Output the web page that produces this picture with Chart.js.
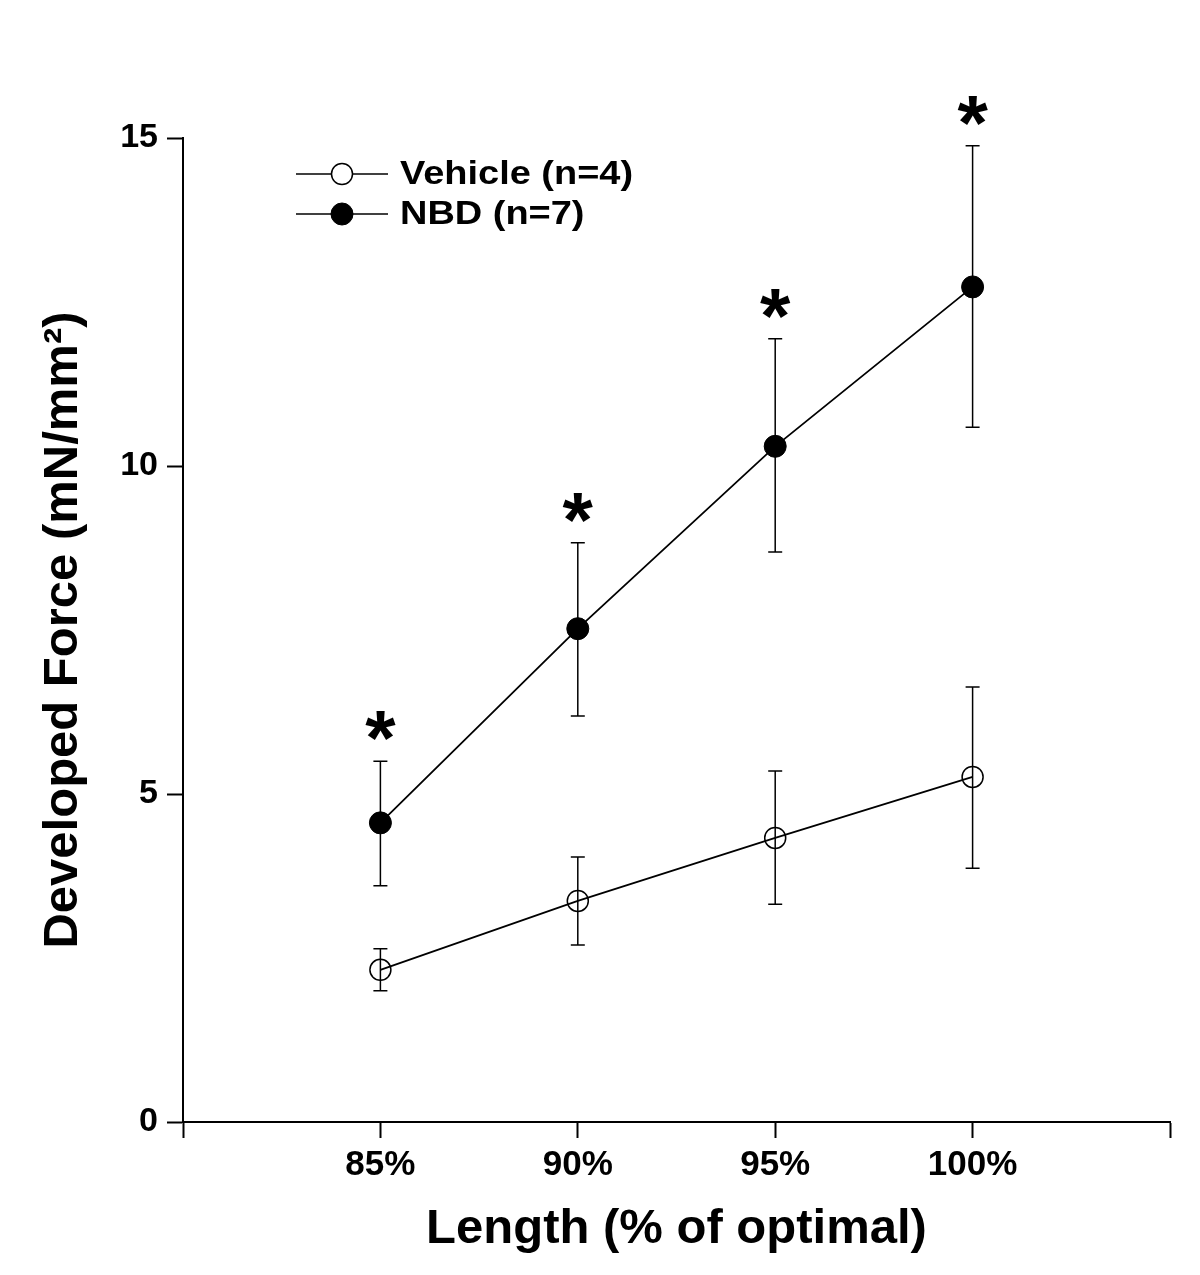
<!DOCTYPE html>
<html>
<head>
<meta charset="utf-8">
<script src="https://cdn.jsdelivr.net/npm/chart.js@4.4.1/dist/chart.umd.min.js"></script>
<style>
  html, body { margin: 0; padding: 0; background: #fff; }
  #wrap { width: 1200px; height: 1275px; }
</style>
</head>
<body>
<div id="wrap"><canvas id="chart"></canvas></div>
<script>
const lengths = [85, 90, 95, 100];
const vehicleMean = [2.32, 3.37, 4.33, 5.26];
const vehicleUpper = [2.64, 4.04, 5.35, 6.63];
const vehicleLower = [2.00, 2.70, 3.32, 3.87];
const nbdMean = [4.56, 7.52, 10.30, 12.73];
const nbdUpper = [5.50, 8.83, 11.94, 14.88];
const nbdLower = [3.60, 6.19, 8.69, 10.59];
const significant = [true, true, true, true];
const xTicks = [85, 90, 95, 100];

const FONT = 'Liberation Sans, Arial, sans-serif';

const toPoints = (xs, ys) => xs.map((x, i) => ({ x: x, y: ys[i] }));

// error bars with caps, drawn over the lines
const errorBars = {
  id: 'errorBars',
  afterDatasetsDraw(chart) {
    const ctx = chart.ctx;
    const xs = chart.scales.x;
    const ys = chart.scales.y;
    const sets = [[vehicleUpper, vehicleLower], [nbdUpper, nbdLower]];
    ctx.save();
    ctx.strokeStyle = '#000';
    ctx.lineWidth = 1.5;
    sets.forEach(([up, lo]) => {
      lengths.forEach((l, i) => {
        const px = xs.getPixelForValue(l);
        const top = ys.getPixelForValue(up[i]);
        const bot = ys.getPixelForValue(lo[i]);
        ctx.beginPath();
        ctx.moveTo(px, top); ctx.lineTo(px, bot);
        ctx.moveTo(px - 7, top); ctx.lineTo(px + 7, top);
        ctx.moveTo(px - 7, bot); ctx.lineTo(px + 7, bot);
        ctx.stroke();
      });
    });
    // asterisks above NBD error bars
    ctx.fillStyle = '#000';
    ctx.font = 'bold 78px ' + FONT;
    ctx.textAlign = 'center';
    ctx.textBaseline = 'alphabetic';
    lengths.forEach((l, i) => {
      if (!significant[i]) return;
      const px = xs.getPixelForValue(l);
      const top = ys.getPixelForValue(nbdUpper[i]);
      ctx.fillText('*', px, top - 37 + 41);
    });
    ctx.restore();
  }
};

// legend: line through marker, then label
const lineLegend = {
  id: 'lineLegend',
  afterDraw(chart) {
    const ctx = chart.ctx;
    ctx.save();
    chart.data.datasets.forEach((ds, i) => {
      const y = 174 + i * 40;
      ctx.strokeStyle = '#000';
      ctx.lineWidth = 1.5;
      ctx.beginPath();
      ctx.moveTo(296, y); ctx.lineTo(388, y);
      ctx.stroke();
      ctx.beginPath();
      ctx.arc(342, y, ds.pointRadius, 0, Math.PI * 2);
      ctx.fillStyle = ds.pointBackgroundColor === 'transparent' ? '#fff' : '#000';
      ctx.fill();
      ctx.lineWidth = ds.pointBorderWidth;
      ctx.stroke();
      ctx.save();
      ctx.translate(400, y + 1);
      ctx.scale(1.15, 1);
      ctx.font = 'bold 33px ' + FONT;
      ctx.textBaseline = 'middle';
      ctx.textAlign = 'left';
      ctx.fillStyle = '#000';
      ctx.fillText(ds.label, 0, 0);
      ctx.restore();
    });
    ctx.restore();
  }
};

new Chart(document.getElementById('chart'), {
  type: 'line',
  data: {
    datasets: [
      {
        label: 'Vehicle (n=4)',
        data: toPoints(lengths, vehicleMean),
        borderColor: '#000',
        borderWidth: 1.8,
        pointRadius: 10.5,
        pointBorderWidth: 1.5,
        pointBorderColor: '#000',
        pointBackgroundColor: 'transparent',
        tension: 0
      },
      {
        label: 'NBD (n=7)',
        data: toPoints(lengths, nbdMean),
        borderColor: '#000',
        borderWidth: 1.8,
        pointRadius: 11,
        pointBorderWidth: 1,
        pointBorderColor: '#000',
        pointBackgroundColor: '#000',
        tension: 0
      }
    ]
  },
  options: {
    responsive: true,
    maintainAspectRatio: false,
    animation: false,
    layout: { padding: { top: 138, right: 30, left: 0, bottom: 0 } },
    plugins: {
      legend: { display: false },
      tooltip: { enabled: false }
    },
    scales: {
      x: {
        type: 'linear',
        min: 80,
        max: 105,
        afterFit: (scale) => { scale.height = 153; },
        afterBuildTicks: (scale) => {
          scale.ticks = [80, ...xTicks, 105].map(v => ({ value: v }));
        },
        ticks: {
          color: '#000',
          font: { family: FONT, size: 35, weight: 'bold' },
          padding: 6,
          maxRotation: 0,
          autoSkip: false,
          callback: (v) => xTicks.includes(v) ? v + '%' : ''
        },
        grid: { drawOnChartArea: false, drawTicks: true, tickLength: 16, tickColor: '#000', tickWidth: 2 },
        border: { display: true, color: '#000', width: 2 },
        title: {
          display: true,
          text: 'Length (% of optimal)',
          color: '#000',
          font: { family: FONT, size: 49, weight: 'bold' },
          padding: { top: 0, bottom: 16 }
        }
      },
      y: {
        min: 0,
        max: 15,
        afterFit: (scale) => { scale.width = 183; },
        ticks: {
          stepSize: 5,
          color: '#000',
          font: { family: FONT, size: 34, weight: 'bold' },
          padding: 9
        },
        grid: { drawOnChartArea: false, drawTicks: true, tickLength: 16, tickColor: '#000', tickWidth: 2 },
        border: { display: true, color: '#000', width: 2 },
        title: {
          display: true,
          text: 'Developed Force (mN/mm²)',
          color: '#000',
          font: { family: FONT, size: 49, weight: 'bold' },
          padding: { top: 34, bottom: 0 }
        }
      }
    }
  },
  plugins: [errorBars, lineLegend]
});
</script>
</body>
</html>
